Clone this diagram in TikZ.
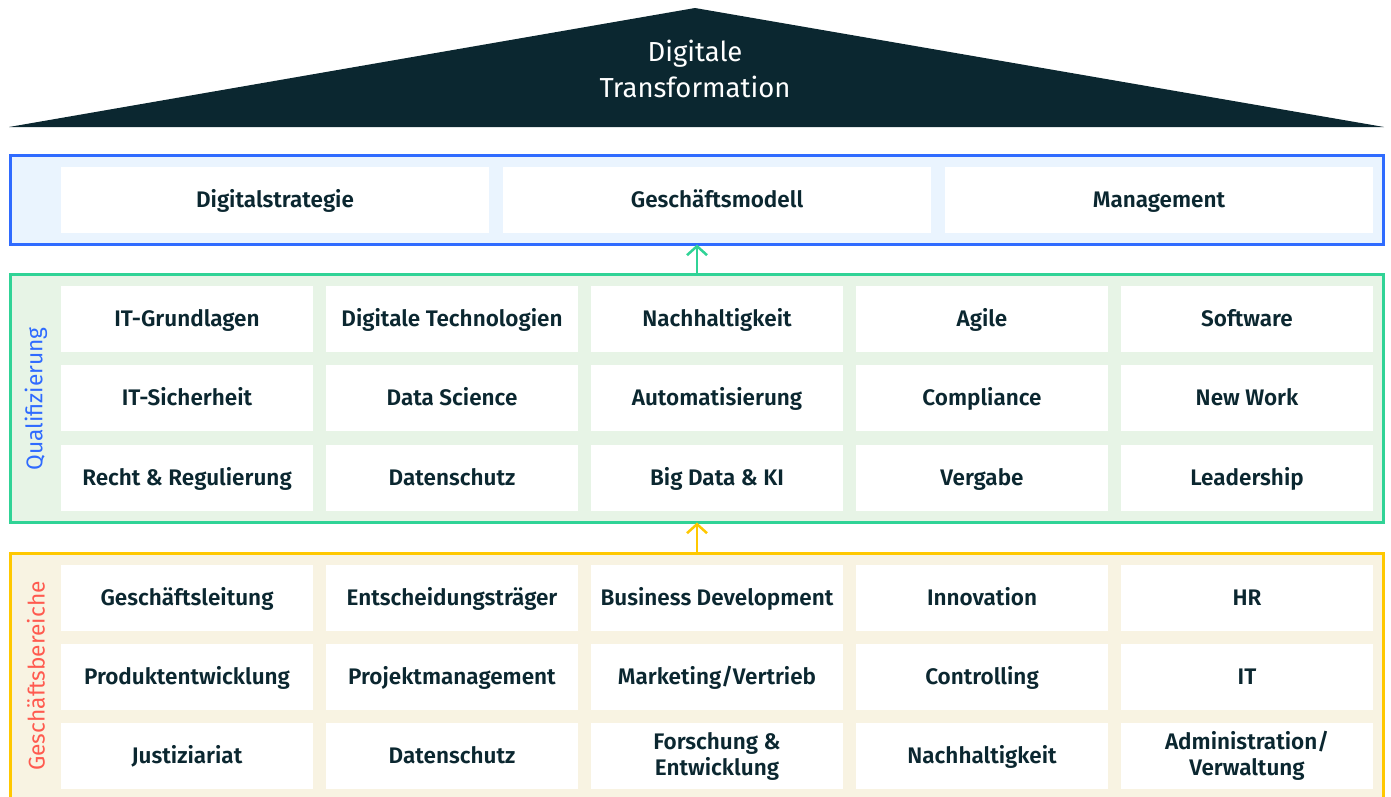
\documentclass[tikz,border=0pt]{standalone}
\usepackage{fontspec}
\setmainfont{Fira Sans}[BoldFont={Fira Sans SemiBold}]
\usetikzlibrary{arrows.meta}
\definecolor{dark}{HTML}{0B2730}
\definecolor{bluebd}{HTML}{2F6BFF}
\definecolor{bluefill}{HTML}{EAF4FE}
\definecolor{greenbd}{HTML}{30D396}
\definecolor{greenfill}{HTML}{E7F4E6}
\definecolor{yellowbd}{HTML}{FFC800}
\definecolor{yellowfill}{HTML}{F8F3E2}
\definecolor{redlab}{HTML}{FF5A4F}
\begin{document}
\begin{tikzpicture}[x=1pt,y=-1pt,
  cellbase/.style={fill=white, minimum width=252pt, minimum height=66pt, inner sep=0pt, outer sep=0pt,
    font=\bfseries\fontsize{22.5}{26}\selectfont, text=dark, align=center},
  cell/.style={cellbase, text height=20pt, text depth=5pt},
  tcell/.style={cellbase},
  wcell/.style={cell, minimum width=428pt},
  band/.style={line width=3pt, minimum width=1373pt, inner sep=0pt, outer sep=0pt},
  uparrow/.style={line width=2.5pt, -{Straight Barb[length=9pt,width=20pt,line width=2.5pt]}},
  sidelabel/.style={rotate=90, font=\fontsize{22.7}{26}\selectfont, inner sep=0pt}]
\useasboundingbox (0,0) rectangle (1391,796);
\clip (0,0) rectangle (1391,796);
% roof
\fill[dark] (9,127) -- (695,8) -- (1384,127) -- cycle;
\node[text=white, align=center, font=\fontsize{27.5}{36}\selectfont] (roof) at (695,69) {Digitale\\Transformation};
% bands
\node[band, draw=bluebd, fill=bluefill, minimum height=89pt] (topband) at (697,200) {};
\node[band, draw=greenbd, fill=greenfill, minimum height=248pt] (qual) at (697,398.5) {};
\node[band, draw=yellowbd, fill=yellowfill, minimum height=248pt] (gesch) at (697,677.5) {};
% arrows
\draw[uparrow, greenbd] (qual.north) -- (topband.south);
\draw[uparrow, yellowbd] (gesch.north) -- (qual.south);
% side labels
\node[sidelabel, text=bluebd] (qlab) at (36,399) {Qualifizierung};
\node[sidelabel, text=redlab] (glab) at (36,676) {Geschäftsbereiche};
% top cells
\node[wcell] (t1) at (275,200) {Digitalstrategie};
\node[wcell] (t2) at (717,200) {Geschäftsmodell};
\node[wcell] (t3) at (1159,200) {Management};
% Qualifizierung cells
\node[cell] (q11) at (187,319) {IT-Grundlagen};
\node[cell] (q12) at (452,319) {Digitale Technologien};
\node[cell] (q13) at (717,319) {Nachhaltigkeit};
\node[cell] (q14) at (982,319) {Agile};
\node[cell] (q15) at (1247,319) {Software};
\node[cell] (q21) at (187,398) {IT-Sicherheit};
\node[cell] (q22) at (452,398) {Data Science};
\node[cell] (q23) at (717,398) {Automatisierung};
\node[cell] (q24) at (982,398) {Compliance};
\node[cell] (q25) at (1247,398) {New Work};
\node[cell] (q31) at (187,477.5) {Recht \& Regulierung};
\node[cell] (q32) at (452,477.5) {Datenschutz};
\node[cell] (q33) at (717,477.5) {Big Data \& KI};
\node[cell] (q34) at (982,477.5) {Vergabe};
\node[cell] (q35) at (1247,477.5) {Leadership};
% Geschäftsbereiche cells
\node[cell] (g11) at (187,597.5) {Geschäftsleitung};
\node[cell] (g12) at (452,597.5) {Entscheidungsträger};
\node[cell] (g13) at (717,597.5) {Business Development};
\node[cell] (g14) at (982,597.5) {Innovation};
\node[cell] (g15) at (1247,597.5) {HR};
\node[cell] (g21) at (187,676.5) {Produktentwicklung};
\node[cell] (g22) at (452,676.5) {Projektmanagement};
\node[cell] (g23) at (717,676.5) {Marketing/Vertrieb};
\node[cell] (g24) at (982,676.5) {Controlling};
\node[cell] (g25) at (1247,676.5) {IT};
\node[cell] (g31) at (187,756) {Justiziariat};
\node[cell] (g32) at (452,756) {Datenschutz};
\node[tcell] (g33) at (717,756) {Forschung \&\\Entwicklung};
\node[cell] (g34) at (982,756) {Nachhaltigkeit};
\node[tcell] (g35) at (1247,756) {Administration/\\Verwaltung};
\end{tikzpicture}
\end{document}
